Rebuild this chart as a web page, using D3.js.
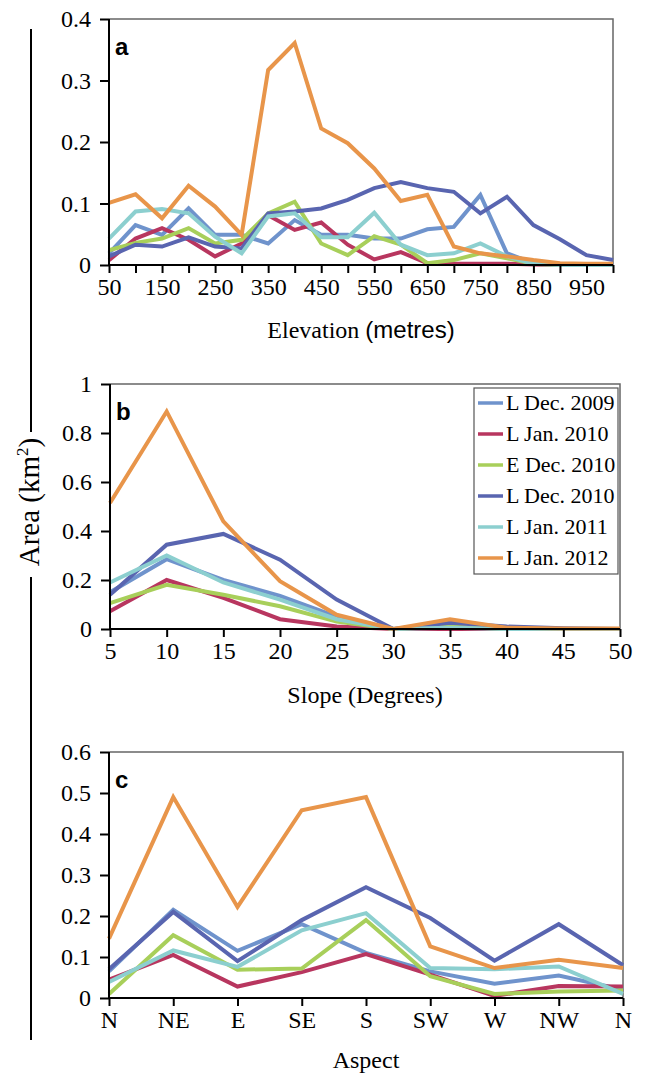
<!DOCTYPE html>
<html>
<head>
  <meta charset="UTF-8">
  <title>Area by elevation, slope and aspect</title>
  <style>
    body { margin: 0; background: #fff; }
    svg text { font-family: "Liberation Serif", "Times New Roman", serif; }
    svg text.sans, svg tspan.sans { font-family: "Liberation Sans", Arial, sans-serif; }
    .tick line { stroke: #000; stroke-width: 2px; }
    .domain { stroke: #000; stroke-width: 2px; }
  </style>
</head>
<body>
  <div id="chart"></div>
  <script src="https://d3js.org/d3.v7.min.js"></script>
  <script>
    const seriesNames = ["L Dec. 2009", "L Jan. 2010", "E Dec. 2010", "L Dec. 2010", "L Jan. 2011", "L Jan. 2012"];
    const seriesColors = ["#6f93cc", "#b8365f", "#a8cf5a", "#5965b0", "#8ccfcf", "#e8954a"];

    // panel a - elevation
    const elevX = [50, 100, 150, 200, 250, 300, 350, 400, 450, 500, 550, 600, 650, 700, 750, 800, 850, 900, 950, 1000];
    const elevTicks = [50, 150, 250, 350, 450, 550, 650, 750, 850, 950];
    const elevLDec09 = [0.019, 0.065, 0.049, 0.092, 0.049, 0.049, 0.035, 0.073, 0.049, 0.049, 0.043, 0.043, 0.058, 0.062, 0.114, 0.019, 0.003, 0, 0, 0];
    const elevLJan10 = [0.008, 0.043, 0.060, 0.041, 0.014, 0.035, 0.081, 0.057, 0.069, 0.033, 0.009, 0.021, 0.003, 0.002, 0.002, 0.002, 0.001, 0, 0, 0];
    const elevEDec10 = [0.024, 0.036, 0.043, 0.060, 0.035, 0.041, 0.084, 0.103, 0.035, 0.016, 0.047, 0.033, 0.003, 0.008, 0.019, 0.011, 0.002, 0, 0, 0];
    const elevLDec10 = [0.014, 0.033, 0.030, 0.045, 0.030, 0.027, 0.084, 0.087, 0.092, 0.106, 0.125, 0.135, 0.125, 0.119, 0.084, 0.111, 0.065, 0.042, 0.016, 0.008];
    const elevLJan11 = [0.043, 0.087, 0.091, 0.084, 0.046, 0.019, 0.079, 0.084, 0.045, 0.045, 0.085, 0.033, 0.016, 0.019, 0.035, 0.014, 0.002, 0, 0, 0];
    const elevLJan12 = [0.101, 0.115, 0.076, 0.129, 0.095, 0.049, 0.317, 0.361, 0.222, 0.198, 0.157, 0.104, 0.114, 0.030, 0.019, 0.014, 0.008, 0.003, 0.002, 0.002];
    const elevYTicks = [0, 0.1, 0.2, 0.3, 0.4];

    // panel b - slope
    const slopeX = [5, 10, 15, 20, 25, 30, 35, 40, 45, 50];
    const slopeLDec09 = [0.15, 0.285, 0.20, 0.135, 0.05, 0, 0.005, 0, 0, 0];
    const slopeLJan10 = [0.072, 0.20, 0.127, 0.04, 0.01, 0, 0, 0, 0, 0];
    const slopeEDec10 = [0.106, 0.18, 0.14, 0.093, 0.03, 0, 0.01, 0, 0, 0];
    const slopeLDec10 = [0.14, 0.344, 0.388, 0.283, 0.12, 0, 0.025, 0.01, 0.003, 0];
    const slopeLJan11 = [0.19, 0.30, 0.19, 0.12, 0.04, 0, 0.005, 0, 0, 0];
    const slopeLJan12 = [0.514, 0.888, 0.439, 0.195, 0.058, 0, 0.04, 0.005, 0.002, 0.002];
    const slopeYTicks = [0, 0.2, 0.4, 0.6, 0.8, 1];

    // panel c - aspect
    const aspectLabels = ["N", "NE", "E", "SE", "S", "SW", "W", "NW", "N"];
    const aspectLDec09 = [0.065, 0.215, 0.115, 0.18, 0.11, 0.065, 0.035, 0.055, 0.02];
    const aspectLJan10 = [0.045, 0.105, 0.028, 0.063, 0.107, 0.057, 0.005, 0.029, 0.028];
    const aspectEDec10 = [0.01, 0.153, 0.069, 0.072, 0.19, 0.053, 0.01, 0.016, 0.018];
    const aspectLDec10 = [0.07, 0.21, 0.09, 0.19, 0.27, 0.195, 0.091, 0.18, 0.08];
    const aspectLJan11 = [0.039, 0.116, 0.076, 0.165, 0.207, 0.073, 0.07, 0.077, 0.01];
    const aspectLJan12 = [0.145, 0.49, 0.222, 0.458, 0.49, 0.126, 0.073, 0.093, 0.073];
    const aspectYTicks = [0, 0.1, 0.2, 0.3, 0.4, 0.5, 0.6];

    const W = 650, H = 1075;
    const svg = d3.select("#chart").append("svg")
      .attr("width", W).attr("height", H);

    function drawPanel(p) {
      const g = svg.append("g");
      const x = p.x, y = p.y;

      // frame top + right
      g.append("path")
        .attr("d", `M${p.left},${p.top}H${p.right}V${p.bottom}`)
        .attr("fill", "none").attr("stroke", "#666").attr("stroke-width", 1.5);

      const line = d3.line().x((d, i) => x(p.xs[i])).y(d => y(d));
      p.series.forEach((vals, k) => {
        g.append("path")
          .datum(vals)
          .attr("d", line)
          .attr("fill", "none")
          .attr("stroke", seriesColors[k])
          .attr("stroke-width", 4);
      });

      const xAxis = g.append("g")
        .attr("transform", `translate(0,${p.bottom})`)
        .call(d3.axisBottom(x).tickValues(p.xTicks).tickSize(8).tickPadding(5).tickFormat(p.xFormat));
      xAxis.selectAll("text").attr("font-size", 24).attr("fill", "#000");
      if (p.xLabelTicks) {
        xAxis.selectAll(".tick text").text(d => p.xLabelTicks.includes(d) ? d : "");
      }

      const yAxis = g.append("g")
        .attr("transform", `translate(${p.left},0)`)
        .call(d3.axisLeft(y).tickValues(p.yTicks).tickSize(9).tickPadding(9).tickFormat(d => d3.format("")(+d.toFixed(1))));
      yAxis.selectAll("text").attr("font-size", 24).attr("fill", "#000");
      yAxis.selectAll(".domain").attr("d", `M-0,${p.top}V${p.bottom}`);
      xAxis.selectAll(".domain").attr("d", `M${p.left},0H${p.right}`);

      g.append("text")
        .attr("class", "sans")
        .attr("x", p.left + 6).attr("y", p.top + 36)
        .attr("font-weight", "bold").attr("font-size", 24)
        .text(p.letter);

      const t = g.append("text")
        .attr("x", (p.left + p.right) / 2).attr("y", p.titleY)
        .attr("text-anchor", "middle").attr("font-size", 24);
      p.title.forEach(part => {
        t.append("tspan").text(part[0]).attr("class", part[1] ? "sans" : null);
      });
    }

    // a
    drawPanel({
      left: 109, right: 613, top: 19, bottom: 265,
      x: d3.scaleLinear().domain([50, 1000]).range([109, 613]),
      y: d3.scaleLinear().domain([0, 0.4]).range([265, 19]),
      xs: elevX,
      xTicks: elevX, xLabelTicks: elevTicks, xFormat: d => d,
      yTicks: elevYTicks,
      series: [elevLDec09, elevLJan10, elevEDec10, elevLDec10, elevLJan11, elevLJan12],
      letter: "a",
      title: [["Elevation ", false], ["(metres)", true]],
      titleY: 338
    });

    // b
    drawPanel({
      left: 110, right: 620, top: 384, bottom: 629,
      x: d3.scaleLinear().domain([5, 50]).range([110, 620]),
      y: d3.scaleLinear().domain([0, 1]).range([629, 384]),
      xs: slopeX,
      xTicks: slopeX, xFormat: d => d,
      yTicks: slopeYTicks,
      series: [slopeLDec09, slopeLJan10, slopeEDec10, slopeLDec10, slopeLJan11, slopeLJan12],
      letter: "b",
      title: [["Slope (Degrees)", false]],
      titleY: 703
    });

    // c
    const aspectIdx = aspectLabels.map((d, i) => i);
    drawPanel({
      left: 109, right: 623, top: 752, bottom: 998,
      x: d3.scaleLinear().domain([0, aspectLabels.length - 1]).range([109, 623]),
      y: d3.scaleLinear().domain([0, 0.6]).range([998, 752]),
      xs: aspectIdx,
      xTicks: aspectIdx, xFormat: i => aspectLabels[i],
      yTicks: aspectYTicks,
      series: [aspectLDec09, aspectLJan10, aspectEDec10, aspectLDec10, aspectLJan11, aspectLJan12],
      letter: "c",
      title: [["Aspect", false]],
      titleY: 1068
    });

    // legend in panel b
    const leg = svg.append("g").attr("transform", "translate(474,388)");
    leg.append("rect").attr("width", 144).attr("height", 186)
      .attr("fill", "#fff").attr("stroke", "#555").attr("stroke-width", 1.2);
    seriesNames.forEach((name, i) => {
      const yy = 15 + i * 31;
      leg.append("line").attr("x1", 4).attr("x2", 29).attr("y1", yy).attr("y2", yy)
        .attr("stroke", seriesColors[i]).attr("stroke-width", 3.5);
      leg.append("text").attr("x", 32).attr("y", yy + 7)
        .attr("font-size", 22).text(name);
    });

    // shared y title with the long bracket line
    svg.append("line").attr("x1", 31).attr("x2", 31).attr("y1", 29).attr("y2", 432)
      .attr("stroke", "#000").attr("stroke-width", 2);
    svg.append("line").attr("x1", 31).attr("x2", 31).attr("y1", 577).attr("y2", 1040)
      .attr("stroke", "#000").attr("stroke-width", 2);
    const yt = svg.append("text")
      .attr("transform", "translate(39,502) rotate(-90)")
      .attr("text-anchor", "middle").attr("font-size", 29);
    yt.append("tspan").text("Area (km");
    yt.append("tspan").text("2").attr("font-size", 17).attr("dy", -11);
    yt.append("tspan").text(")").attr("dy", 11);
  </script>
</body>
</html>
